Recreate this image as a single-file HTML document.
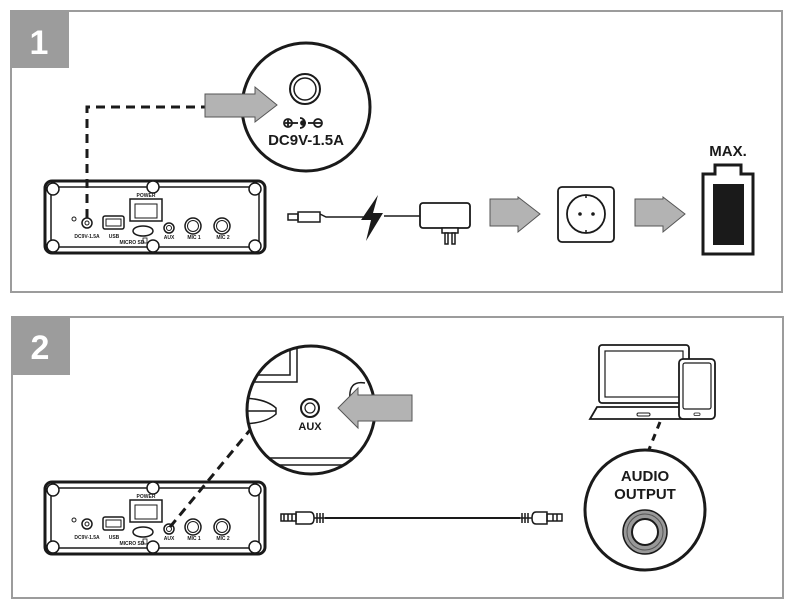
<!DOCTYPE html>
<html><head><meta charset="utf-8"><style>
html,body{margin:0;padding:0;background:#fff;}
svg{display:block;}
text{font-family:"Liberation Sans",sans-serif;font-weight:bold;}
</style></head><body>
<svg width="797" height="605" viewBox="0 0 797 605" xmlns="http://www.w3.org/2000/svg">
<defs>
<g id="dev" fill="none" stroke="#1a1a1a">
  <rect x="45" y="181" width="220" height="72" rx="7" stroke-width="3"/>
  <rect x="51" y="187" width="208" height="60" stroke-width="1.5"/>
  <g fill="#fff" stroke-width="1.5">
    <circle cx="53" cy="189" r="6"/><circle cx="153" cy="187" r="6"/><circle cx="255" cy="189" r="6"/>
    <circle cx="53" cy="246" r="6"/><circle cx="153" cy="246" r="6"/><circle cx="255" cy="246" r="6"/>
  </g>
  <rect x="130" y="199" width="32" height="22" stroke-width="1.5"/>
  <rect x="135" y="204" width="22" height="14" stroke-width="1"/>
  <circle cx="74" cy="219" r="2" stroke-width="1"/>
  <circle cx="87" cy="223" r="5" stroke-width="1.5"/><circle cx="87" cy="223" r="2" stroke-width="1"/>
  <rect x="103" y="216" width="21" height="13" rx="2" stroke-width="1.5"/>
  <rect x="106" y="219" width="15" height="7" stroke-width="1"/>
  <ellipse cx="143" cy="231" rx="10" ry="5" stroke-width="1.5"/>
  <rect x="143" y="238" width="4" height="5" stroke-width="0.8"/>
  <circle cx="169" cy="228" r="5" stroke-width="1.5"/><circle cx="169" cy="228" r="2.5" stroke-width="1"/>
  <circle cx="193" cy="226" r="8" stroke-width="1.5"/><circle cx="193" cy="226" r="5.5" stroke-width="1"/>
  <circle cx="222" cy="226" r="8" stroke-width="1.5"/><circle cx="222" cy="226" r="5.5" stroke-width="1"/>
  <g fill="#1a1a1a" stroke="none" font-size="5" text-anchor="middle">
    <text x="146" y="197">POWER</text>
    <text x="87" y="238">DC9V-1.5A</text>
    <text x="114" y="238">USB</text>
    <text x="132" y="244">MICRO SD</text>
    <text x="169" y="239">AUX</text>
    <text x="194" y="239">MIC 1</text>
    <text x="223" y="239">MIC 2</text>
  </g>
</g>
</defs>

<rect x="11" y="11" width="771" height="281" fill="none" stroke="#9c9c9c" stroke-width="2"/>
<rect x="10" y="10" width="59" height="58" fill="#9c9c9c"/>
<text x="39" y="54" fill="#fff" font-size="34" text-anchor="middle">1</text>

<use href="#dev"/>
<path d="M87 218 V107 H205" fill="none" stroke="#1a1a1a" stroke-width="3" stroke-dasharray="9,6"/>
<circle cx="306" cy="107" r="64" fill="#fff" stroke="#1a1a1a" stroke-width="3"/>
<path d="M205 94 H255 V87 L277 105 L255 122 V117 H205 Z" fill="#b3b3b3" stroke="#555" stroke-width="1"/>
<circle cx="305" cy="89" r="15" fill="none" stroke="#1a1a1a" stroke-width="2"/>
<circle cx="305" cy="89" r="11" fill="none" stroke="#1a1a1a" stroke-width="1.5"/>
<g stroke="#1a1a1a" stroke-width="1.8" fill="none">
  <circle cx="288" cy="123" r="4"/><path d="M285 123h6M288 120v6"/>
  <path d="M292 123h6"/><path d="M300 118 a5 5 0 1 1 0 10"/><circle cx="303" cy="123" r="2" fill="#1a1a1a"/>
  <path d="M308 123h6"/><circle cx="318" cy="123" r="4"/><path d="M315 123h6"/>
</g>
<text x="306" y="145" font-size="15" text-anchor="middle" fill="#1a1a1a">DC9V-1.5A</text>

<g fill="none" stroke="#1a1a1a" stroke-width="1.5">
  <rect x="288" y="214" width="10" height="6"/>
  <rect x="298" y="212" width="22" height="10"/>
  <path d="M320 214 L326 217 H368 M384 216 H420"/>
</g>
<path d="M378 195 L361 220 L371 220 L366 241 L383 213 L373 213 Z" fill="#1a1a1a"/>
<rect x="420" y="203" width="50" height="25" rx="3" fill="#fff" stroke="#1a1a1a" stroke-width="1.8"/>
<rect x="442" y="228" width="16" height="5" fill="#fff" stroke="#1a1a1a" stroke-width="1.5"/>
<rect x="445" y="233" width="3" height="11" fill="#fff" stroke="#1a1a1a" stroke-width="1.5"/>
<rect x="452" y="233" width="3" height="11" fill="#fff" stroke="#1a1a1a" stroke-width="1.5"/>
<path d="M490 199 H518 V197 L540 214 L518 232 V226 H490 Z" fill="#b3b3b3" stroke="#555" stroke-width="1"/>
<rect x="558" y="187" width="56" height="55" rx="4" fill="#fff" stroke="#1a1a1a" stroke-width="1.8"/>
<circle cx="586" cy="214" r="19" fill="none" stroke="#1a1a1a" stroke-width="1.8"/>
<path d="M586 195v3M586 230v3" stroke="#1a1a1a" stroke-width="1.5"/>
<circle cx="580" cy="214" r="1.8" fill="#1a1a1a"/><circle cx="593" cy="214" r="1.8" fill="#1a1a1a"/>
<path d="M635 199 H663 V197 L685 214 L663 232 V226 H635 Z" fill="#b3b3b3" stroke="#555" stroke-width="1"/>
<path d="M715 174 V165 H741 V174 H753 V254 H703 V174 Z" fill="#fff" stroke="#1a1a1a" stroke-width="3"/>
<rect x="713" y="184" width="31" height="61" fill="#1a1a1a"/>
<text x="728" y="156" font-size="15" text-anchor="middle" fill="#1a1a1a">MAX.</text>

<rect x="12" y="317" width="771" height="281" fill="none" stroke="#9c9c9c" stroke-width="2"/>
<rect x="11" y="316" width="59" height="59" fill="#9c9c9c"/>
<text x="40" y="359" fill="#fff" font-size="34" text-anchor="middle">2</text>

<use href="#dev" transform="translate(0,301)"/>
<path d="M170 527 L250 430" fill="none" stroke="#1a1a1a" stroke-width="3" stroke-dasharray="9,6"/>
<clipPath id="cc"><circle cx="311" cy="410" r="64"/></clipPath>
<circle cx="311" cy="410" r="64" fill="#fff"/>
<g clip-path="url(#cc)" fill="none" stroke="#1a1a1a" stroke-width="1.5">
  <path d="M240 375 H290 V330 M240 382 H297 V330"/>
  <path d="M240 398 Q265 398 276 408 L276 414 Q265 424 240 424"/>
  <path d="M240 411 H276"/>
  <path d="M240 458 H380 M240 465 H380"/>
  <path d="M350 400 Q348 380 365 383"/>
</g>
<circle cx="311" cy="410" r="64" fill="none" stroke="#1a1a1a" stroke-width="3"/>
<circle cx="310" cy="408" r="9" fill="none" stroke="#1a1a1a" stroke-width="2"/>
<circle cx="310" cy="408" r="5" fill="none" stroke="#1a1a1a" stroke-width="1.2"/>
<text x="310" y="430" font-size="11" text-anchor="middle" fill="#1a1a1a">AUX</text>
<path d="M412 395 H358 V388 L338 408 L358 428 V421 H412 Z" fill="#b3b3b3" stroke="#555" stroke-width="1"/>

<g fill="none" stroke="#1a1a1a" stroke-width="1.5">
  <rect x="281" y="514" width="15" height="7"/>
  <path d="M284 514v7M288 514v7M292 514v7"/>
  <path d="M296 512 H310 Q314 512 314 518 Q314 524 310 524 H296 Z"/>
  <path d="M314 518 H325"/>
  <path d="M317 513v10M320 513v10M323 513v10"/>
  <path d="M325 518 H520" stroke-width="2"/>
  <path d="M522 513v10M525 513v10M528 513v10"/>
  <path d="M520 518 H532"/>
  <path d="M547 512 H536 Q532 512 532 518 Q532 524 536 524 H547 Z"/>
  <rect x="547" y="514" width="15" height="7"/>
  <path d="M553 514v7M557 514v7"/>
</g>

<g fill="#fff" stroke="#1a1a1a" stroke-width="1.8">
  <rect x="599" y="345" width="90" height="58" rx="3"/>
  <rect x="605" y="351" width="78" height="46" stroke-width="1.2"/>
  <path d="M597 407 H690 V419 H590 Z"/>
  <rect x="637" y="413" width="13" height="3" rx="1.5" stroke-width="1"/>
  <rect x="679" y="359" width="36" height="60" rx="4"/>
  <rect x="683" y="363" width="28" height="46" rx="2" stroke-width="1.2"/>
  <rect x="694" y="413" width="6" height="2.5" rx="1" stroke-width="0.8"/>
</g>
<path d="M660 422 L648 452" fill="none" stroke="#1a1a1a" stroke-width="3" stroke-dasharray="7,6"/>
<circle cx="645" cy="510" r="60" fill="#fff" stroke="#1a1a1a" stroke-width="3"/>
<text x="645" y="481" font-size="15" text-anchor="middle" fill="#1a1a1a">AUDIO</text>
<text x="645" y="499" font-size="15" text-anchor="middle" fill="#1a1a1a">OUTPUT</text>
<circle cx="645" cy="532" r="22" fill="#999" stroke="#1a1a1a" stroke-width="1.5"/>
<circle cx="645" cy="532" r="18" fill="none" stroke="#555" stroke-width="1"/>
<circle cx="645" cy="532" r="13" fill="#fff" stroke="#1a1a1a" stroke-width="2"/>
</svg>
</body></html>
